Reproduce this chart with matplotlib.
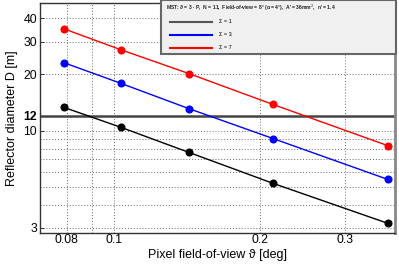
import matplotlib
matplotlib.use("Agg")
import matplotlib.pyplot as plt
from matplotlib.patches import Rectangle
from matplotlib.lines import Line2D
from matplotlib.ticker import FixedLocator, NullLocator

plt.rcParams['font.family'] = ['Liberation Sans', 'DejaVu Sans']

pixel_fov = [0.0789, 0.1034, 0.1428, 0.2128, 0.367]
d_sigma1 = [13.3, 10.4, 7.63, 5.21, 3.18]
d_sigma3 = [23.1, 17.9, 13.1, 9.06, 5.47]
d_sigma7 = [35.1, 27.1, 20.2, 13.8, 8.3]
series_labels = ["Σ = 1", "Σ = 3", "Σ = 7"]
series_colors = ["black", "#0000ff", "#ff0000"]
x_ticks = [0.08, 0.1, 0.2, 0.3]
x_tick_labels = ["0.08", "0.1", "0.2", "0.3"]
x_grid = [0.08, 0.09, 0.1, 0.2, 0.3]
y_ticks = [3, 10, 20, 30, 40]
y_grid = [3, 4, 5, 6, 7, 8, 9, 10, 20, 30, 40]
ref_diameter = 12
header = "MST: ϑ = 3 · P,  N = 11,  Field-of-view = 8° (α = 4°),  A' = 36mm$^2$,  n' = 1.4"

W, H = 399, 265
fig = plt.figure(figsize=(W / 100, H / 100), dpi=100)
ax = fig.add_axes([40 / W, 1 - 233 / H, (395 - 40) / W, (233 - 3) / H])
ax.set_xscale('log')
ax.set_yscale('log')
ax.set_xlim(0.0704, 0.38)
ax.set_ylim(2.82, 48.3)

for xv in x_grid:
    ax.axvline(xv, color='#666666', lw=0.7, ls=(0, (1, 2)), zorder=1)
for yv in y_grid:
    ax.axhline(yv, color='#666666', lw=0.7, ls=(0, (1, 2)), zorder=1)

ax.axhline(ref_diameter, color='#444444', lw=1.8, zorder=2)

for ys, c in zip([d_sigma1, d_sigma3, d_sigma7], series_colors):
    ax.plot(pixel_fov, ys, color=c, lw=1.0, marker='o', ms=4.8, zorder=3)

ax.xaxis.set_major_locator(FixedLocator(x_ticks))
ax.set_xticklabels(x_tick_labels)
ax.xaxis.set_minor_locator(NullLocator())
ax.yaxis.set_major_locator(FixedLocator(y_ticks + [ref_diameter]))
ax.set_yticklabels([str(v) for v in y_ticks] + [str(ref_diameter)])
ax.yaxis.set_minor_locator(NullLocator())
for lab in ax.get_yticklabels():
    if lab.get_text() == str(ref_diameter):
        lab.set_fontweight('bold')
ax.tick_params(axis='both', labelsize=8.8, direction='in', length=3, width=0.7,
               color='#333333', pad=2)
ax.tick_params(axis='x', length=0, pad=1)

for s in ['left', 'bottom', 'top']:
    ax.spines[s].set_color('#333333')
    ax.spines[s].set_linewidth(1.0)
ax.spines['right'].set_color('#888888')
ax.spines['right'].set_linewidth(2.0)

ax.set_xlabel("Pixel field-of-view ϑ [deg]", fontsize=9, va='center')
ax.xaxis.set_label_coords(0.5, (233 - 255) / 230)
ax.set_ylabel("Reflector diameter D [m]", fontsize=9, va='center')
ax.yaxis.set_label_coords((12 - 40) / 355, 0.5)

# legend box
bx0, by0, bx1, by1 = 161, 0, 396, 54
fig.patches.append(Rectangle((bx0 / W, 1 - by1 / H), (bx1 - bx0) / W, (by1 - by0) / H,
                             transform=fig.transFigure, facecolor='#f0f0f0',
                             edgecolor='#666666', lw=1.5, zorder=5))
fig.text(166 / W, 1 - 8 / H, header, fontsize=3.6, fontweight='bold',
         va='center', ha='left', zorder=6, color='#222222')
for i, (lab, c) in enumerate(zip(series_labels, series_colors)):
    yy = 1 - (21.5 + 13 * i) / H
    col = '#555555' if c == 'black' else c
    fig.add_artist(Line2D([170 / W, 212 / W], [yy, yy], transform=fig.transFigure,
                          color=col, lw=1.5, zorder=6))
    fig.text(219 / W, yy, lab, fontsize=4, va='center', ha='left', zorder=6)

fig.savefig("out.png", dpi=100)
